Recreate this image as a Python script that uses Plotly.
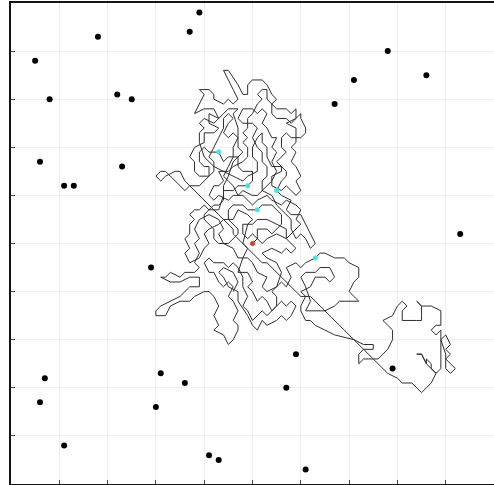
import plotly.graph_objects as go

# Scattered (unvisited) sites
dots_x = [39, 37, 18, 5, 8, 22, 25, 6, 11, 13, 23, 78, 71, 86, 67, 93, 29, 7, 6, 31, 36, 30, 11, 41, 43, 59, 57, 61, 79]
dots_y = [98, 94, 93, 88, 80, 81, 80, 67, 62, 62, 66, 90, 84, 85, 79, 52, 45, 22, 17, 23, 21, 16, 8, 6, 5, 27, 20, 3, 24]

# Visited targets (cyan) and start site (red)
targets_x = [43, 49, 55, 51, 63]
targets_y = [69, 62, 61, 57, 47]
start_x = [50]
start_y = [50]

# Walk vertices (lattice units)
walk = [
    (50,50),(51,51),(51,53),(53,53),(54,52),(56,54),(56,56),(54,58),(52,58),(51,57),(49,57),(48,58),(46,58),
    (45,57),(45,55),(47,53),(47,52),(45,50),(43,50),(42,51),(42,53),(40,55),(40,56),(42,58),(43,58),(44,59),
    (44,61),(46,61),(47,62),(49,62),(50,63),(50,65),(48,65),(47,66),(47,68),(45,68),(44,67),(43,69),(41,69),
    (40,70),(39,69),(39,67),(40,66),(41,66),(41,64),(39,64),
    (38,65),(38,67),(37,68),(38,70),(40,71),(40,73),(42,73),(43,74),(41,75),(41,77),(43,76),(42,78),(40,78),
    (38,77),(39,79),(40,81),(39,82),(41,82),(42,81),(42,80),(44,79),(45,80),(46,79),(47,80),
    (46,82),(45,84),(44,86),(45,86),(47,83),(48,81),(49,81),(49,83),(50,84),(52,84),(53,83),(54,81),(55,80),
    (54,79),(54,77),(55,76),(57,76),(58,75),(60,77),(60,76),(61,74),(61,73),(60,72),(58,72),(57,73),(56,72),
    (56,70),(57,69),(56,68),(55,67),(57,65),(57,64),(56,63),(55,61),(56,60),(58,59),(57,57),(58,56),(60,56),
    (61,54),(62,52),(63,50),(62,49),
    (61,51),(60,52),(59,51),(58,53),(58,55),(56,57),(55,58),(54,60),(52,61),(52,63),(53,64),(53,66),(52,67),
    (52,69),(51,70),(50,72),(51,74),(50,75),(48,75),(47,76),(48,78),(50,78),(51,77),(52,78),(53,77),(52,75),
    (53,74),(54,72),(55,72),(54,70),(55,69),(54,67),(55,65),(54,63),(53,62),(51,60),(50,60),(48,61),(47,60),
    (46,62),(45,63),(44,64),(45,66),(46,68),(46,70),(47,72),(46,73),(45,72),(44,73),(45,75),(46,76),(45,77),
    (44,76),(44,74),(43,72),(42,70),(41,68),(42,67),(42,65),(40,63),(39,62),(37,62),(36,61),(35,62),(34,63),
    (33,64),(32,65),(31,65),(30,64),(31,63),(32,64),(34,65),(35,65),(36,63),
    (46,53),(46,52),(52,46),(53,46),(60,39),(62,39),(78,23),
    (80,22),(81,21),(83,21),(84,20),(85,19),(87,21),(88,23),(87,24),(87,25),(86,26),(86,25),(85,27),(84,27),
    (85,27),(86,25),(88,23),(89,24),(89,30),(90,31),(91,29),(90,28),(91,27),(90,26),(91,25),(92,24),(91,23),
    (90,24),(90,27),(89,30),(89,31),(89,32),(88,31),(87,32),(88,33),(89,33),(89,36),(87,37),(86,37),(85,37),
    (84,38),(85,37),(85,35),(85,34),(84,34),(83,34),(81,34),(81,36),(82,37),(81,38),(80,37),(79,35),(77,34),
    (78,33),(79,32),(79,30),(78,28),(77,27),(76,26),(74,26),(73,26),(72,25),(72,27),(73,28),(75,28),(75,29),
    (73,29),(71,30),(67,31),(65,32),(63,33),(62,34),(61,34),(60,36),
    (60,37),(61,39),(60,40),(62,41),(63,43),(65,43),(66,42),(67,43),(66,45),(64,45),(63,44),(61,44),(60,43),
    (61,41),(62,38),(61,36),(63,36),(65,36),(67,37),(68,38),(70,38),(72,38),(71,39),(70,40),(71,42),(72,43),
    (72,45),(70,46),(69,47),(67,47),(65,48),(64,48),(63,47),(61,46),(60,45),(59,46),(57,45),(58,43),(57,41),
    (56,42),(54,40),(55,39),(55,37),(53,35),(52,36),(50,34),(49,36),(48,37),(49,39),(48,41),(48,43),(47,45),
    (46,46),(45,45),(44,46),(42,46),(41,47),(40,46),(41,44),(42,44),(43,42),(44,41),(45,42),(46,41),(45,39),
    (46,38),(47,36),(46,34),(47,33),(47,32),(46,30),(45,29),(44,31),(42,32),(43,33),(42,35),(43,37),(42,39),
    (41,40),(40,40),(38,39),(37,38),(35,38),(33,37),(32,35),(30,35),(30,36),(31,37),(33,38),(35,39),(37,41),
    (39,41),(39,43),(37,43),(35,42),(33,42),(31,43),(32,43),(33,44),(35,43),(36,44),(38,44),(39,45),(38,46),
    (39,48),(38,50),(39,51),(38,53),(39,55),(41,56),(43,55),(44,53),(43,52),(44,50),(46,49),(47,47),(49,47),
    (50,46),(51,44),(53,43),(52,41),(53,40),(55,41),(56,44),(55,46),(53,47),(52,48),(54,49),(56,48),(57,49),
    (58,48),(59,49),(57,51),(55,52),(53,51),(52,50),
    (50,52),(49,51),(48,52),(48,54),(50,54),(51,55),(53,55),(55,54),(57,53),(57,51),(59,53),(60,54),(59,55),
    (60,57),(59,58),(57,59),(56,58),(54,59),(53,60),(51,59),(50,58),(48,60),(46,60),(45,59),(43,60),(42,59),
    (41,60),(42,62),(43,62),(44,63),(43,65),(45,65),(46,66),(48,67),(49,68),(49,70),(48,71),(49,72),(48,73),
    (49,74),(49,76),(50,77),(51,79),(52,80),(51,81),(52,82),(53,82),(53,80),(55,78),(57,78),(58,77),(59,78),
    (59,76),(57,75),(59,74),(59,71),(58,70),(59,69),(58,67),(59,66),(60,64),(59,63),(60,61),(59,60),(58,61),
    (57,62),(56,61),(54,62),(54,64),(56,65),(56,66),(54,66),(53,68),(53,70),(52,71),(52,73),(51,72),(50,70),
    (50,68),(51,67),(51,65),(49,64),(48,63),(46,64),(44,65),(42,66),(40,68),(39,71),(39,73),(40,74),(39,75),
    (40,76),(42,75),(44,77),(45,78),(47,78),(46,77),(47,74),(47,70),(48,69),(46,67),(45,64),(44,62),(44,60),
    (43,57),(41,57),(40,58),(39,57),(38,57),(37,56),(38,55),(37,54),(37,52),(36,51),(37,49),(36,48),(37,46),
    (39,47),(40,49),(41,50),(40,52),(41,53),(43,54),(44,55),(46,55),(47,57),(49,56),(50,55),(49,54),(48,50),
    (49,49),(48,47),(47,44),(49,44),(50,42),(49,41),(50,40),(51,38),(52,39),(53,38),(54,36),(56,38),(57,37),
    (58,38),(59,37),(58,35),(57,34),(56,35),(55,34),(53,33),(52,34),(51,32),(50,33),(49,35),(47,38),(47,40),
    (45,41),(44,43),(43,44),(44,45),(46,44),(47,42),(46,40),
]
walk_x = [p[0] for p in walk]
walk_y = [p[1] for p in walk]

fig = go.Figure()
fig.add_trace(go.Scatter(x=walk_x, y=walk_y, mode="lines",
                         line=dict(color="#2e2e2e", width=1), hoverinfo="skip"))
fig.add_trace(go.Scatter(x=dots_x, y=dots_y, mode="markers",
                         marker=dict(color="black", size=6)))
fig.add_trace(go.Scatter(x=targets_x, y=targets_y, mode="markers",
                         marker=dict(color="#3ee6e6", size=5)))
fig.add_trace(go.Scatter(x=start_x, y=start_y, mode="markers",
                         marker=dict(color="#d9402a", size=5)))

tickvals = list(range(10, 100, 10))
axis_common = dict(showgrid=True, gridcolor="#efefef", gridwidth=1, zeroline=False,
                   showticklabels=False, ticks="inside", ticklen=4, tickcolor="#444",
                   tickvals=tickvals)
fig.update_xaxes(range=[0, 100], showline=True, linecolor="#151515", linewidth=2,
                 mirror=True, **axis_common)
fig.update_yaxes(range=[0, 100], showline=True, linecolor="#151515", linewidth=2,
                 mirror=False, **axis_common)
fig.update_layout(width=494, height=485, margin=dict(l=11, r=0, t=3, b=1),
                  paper_bgcolor="white", plot_bgcolor="white", showlegend=False)
fig.write_html("out.html", config={"displayModeBar": False},
               post_script="document.body.style.margin='0px';document.body.style.overflow='hidden';")
